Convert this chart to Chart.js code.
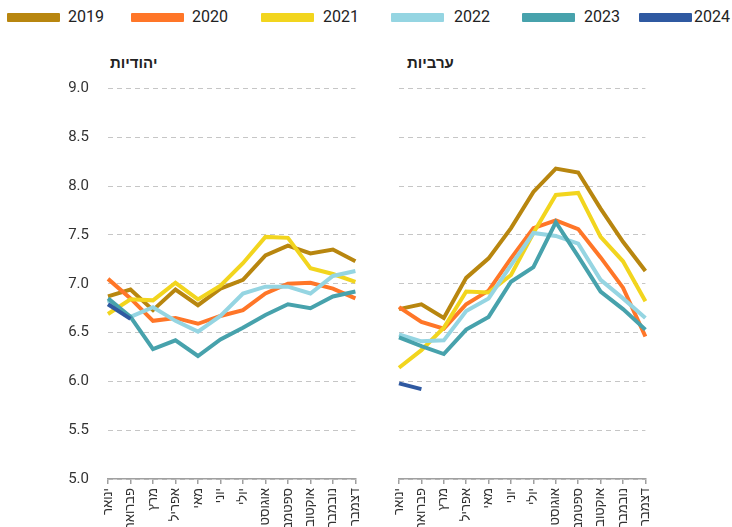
<!DOCTYPE html>
<html lang="he">
<head>
<meta charset="utf-8">
<title>שיעור פריון לפי חודש</title>
<script src="https://cdn.jsdelivr.net/npm/chart.js@4.4.1/dist/chart.umd.min.js"></script>
<style>
    body {
        margin: 0;
        width: 732px;
        height: 527px;
        overflow: hidden;
        position: relative;
        background: #fff;
        font-family: Roboto, 'Liberation Sans', sans-serif;
    }
    .legend-swatch {
        position: absolute;
        top: 13px;
        width: 53px;
        height: 9px;
        border-radius: 1px;
    }
    .legend-text {
        position: absolute;
        top: 7px;
        font-size: 16px;
        line-height: 20px;
        color: #222;
    }
    .panel-title {
        position: absolute;
        top: 54px;
        font: bold 15px 'Liberation Sans', sans-serif;
        line-height: 17px;
        color: #222;
        direction: rtl;
    }
    canvas {
        position: absolute;
        top: 40px;
    }
</style>
</head>
<body>
<div id="legend"></div>
<div class="panel-title" style="left: 110px;">יהודיות</div>
<div class="panel-title" style="left: 407px;">ערביות</div>
<canvas id="chart-jews" width="375" height="487" style="left: 0;"></canvas>
<canvas id="chart-arabs" width="285" height="487" style="left: 380px;"></canvas>
<script>
/**
 * Months along the x axis.
 */
const months = ['ינואר', 'פברואר', 'מרץ', 'אפריל', 'מאי', 'יוני', 'יולי', 'אוגוסט', 'ספטמבר', 'אוקטובר', 'נובמבר', 'דצמבר'];

/**
 * The years shown and their line colours.
 */
const years = ['2019', '2020', '2021', '2022', '2023', '2024'];
const yearColors = ['#B8860F', '#FF7628', '#F2D51E', '#95D5E2', '#47A2AC', '#2F59A1'];

/**
 * Y axis range.
 */
const yMin = 5;
const yMax = 9;
const yStep = 0.5;

// יהודיות
const jews2019 = [6.87, 6.94, 6.73, 6.94, 6.78, 6.95, 7.04, 7.29, 7.39, 7.31, 7.35, 7.23];
const jews2020 = [7.05, 6.85, 6.62, 6.65, 6.59, 6.67, 6.73, 6.90, 7.00, 7.01, 6.95, 6.85];
const jews2021 = [6.69, 6.84, 6.83, 7.01, 6.84, 6.98, 7.21, 7.48, 7.47, 7.16, 7.10, 7.02];
const jews2022 = [6.83, 6.66, 6.76, 6.62, 6.51, 6.67, 6.90, 6.97, 6.97, 6.90, 7.08, 7.13];
const jews2023 = [6.85, 6.66, 6.33, 6.42, 6.26, 6.43, 6.55, 6.68, 6.79, 6.75, 6.87, 6.92];
const jews2024 = [6.79, 6.64];

// ערביות
const arabs2019 = [6.74, 6.79, 6.65, 7.06, 7.26, 7.57, 7.94, 8.18, 8.14, 7.77, 7.43, 7.13];
const arabs2020 = [6.76, 6.61, 6.54, 6.79, 6.93, 7.26, 7.57, 7.65, 7.56, 7.27, 6.96, 6.46];
const arabs2021 = [6.14, 6.32, 6.55, 6.92, 6.91, 7.09, 7.52, 7.91, 7.93, 7.48, 7.23, 6.82];
const arabs2022 = [6.48, 6.41, 6.42, 6.72, 6.85, 7.19, 7.52, 7.49, 7.41, 7.04, 6.85, 6.65];
const arabs2023 = [6.45, 6.36, 6.28, 6.53, 6.66, 7.02, 7.17, 7.63, 7.28, 6.92, 6.74, 6.53];
const arabs2024 = [5.98, 5.92];

/**
 * Build the legend row across the top.
 */
function buildLegend() {
    const swatchLeft = [7, 131, 261, 391, 522, 639];
    const textLeft = [68, 192, 323, 454, 584, 694];
    const legend = document.getElementById('legend');
    years.forEach((year, i) => {
        const swatch = document.createElement('div');
        swatch.className = 'legend-swatch';
        swatch.style.left = swatchLeft[i] + 'px';
        swatch.style.background = yearColors[i];
        const label = document.createElement('div');
        label.className = 'legend-text';
        label.style.left = textLeft[i] + 'px';
        label.textContent = year;
        legend.append(swatch, label);
    });
}

/**
 * Draw one panel.
 *
 * @param canvasId The canvas element id.
 * @param series The per-year values, in the order of years.
 * @param showYTicks Whether the y tick labels are drawn.
 * @param padding The layout padding.
 */
function drawPanel(canvasId, series, showYTicks, padding) {
    const datasets = series.map((values, i) => ({
        label: years[i],
        data: values,
        borderColor: yearColors[i],
        backgroundColor: yearColors[i],
        borderWidth: 4,
        pointRadius: 0,
        tension: 0,
        fill: false,
        // later years sit on top
        order: years.length - 1 - i
    }));

    return new Chart(document.getElementById(canvasId).getContext('2d'), {
        type: 'line',
        data: {
            labels: months,
            datasets: datasets
        },
        options: {
            responsive: false,
            animation: false,
            devicePixelRatio: 1,
            layout: { padding: padding },
            plugins: {
                legend: { display: false },
                tooltip: { enabled: false }
            },
            scales: {
                x: {
                    offset: false,
                    grid: {
                        drawOnChartArea: false,
                        drawTicks: true,
                        tickLength: 5,
                        color: '#a0a0a0',
                        lineWidth: 1.5
                    },
                    border: { display: true, color: '#a0a0a0', width: 1.5 },
                    ticks: {
                        autoSkip: false,
                        minRotation: 90,
                        maxRotation: 90,
                        padding: 4,
                        color: '#333',
                        font: { family: "'Liberation Sans', sans-serif", size: 13 }
                    },
                    afterFit: scale => { scale.height = 48; }
                },
                y: {
                    min: yMin,
                    max: yMax,
                    grid: { color: '#c6c6c6', lineWidth: 1, drawTicks: false },
                    border: { display: false, dash: [5, 4] },
                    ticks: {
                        display: showYTicks,
                        stepSize: yStep,
                        padding: 19,
                        color: '#333',
                        font: { family: 'Roboto', size: 15 },
                        callback: value => value.toFixed(1)
                    },
                    afterFit: scale => { scale.width = showYTicks ? 108 : 0; }
                }
            }
        }
    });
}

document.addEventListener('DOMContentLoaded', function() {
    buildLegend();
    drawPanel('chart-jews',
        [jews2019, jews2020, jews2021, jews2022, jews2023, jews2024],
        true, { top: 48.5, left: 0, right: 11, bottom: 0 });
    drawPanel('chart-arabs',
        [arabs2019, arabs2020, arabs2021, arabs2022, arabs2023, arabs2024],
        false, { top: 48.5, left: 19, right: 14, bottom: 0 });
});
</script>
</body>
</html>
